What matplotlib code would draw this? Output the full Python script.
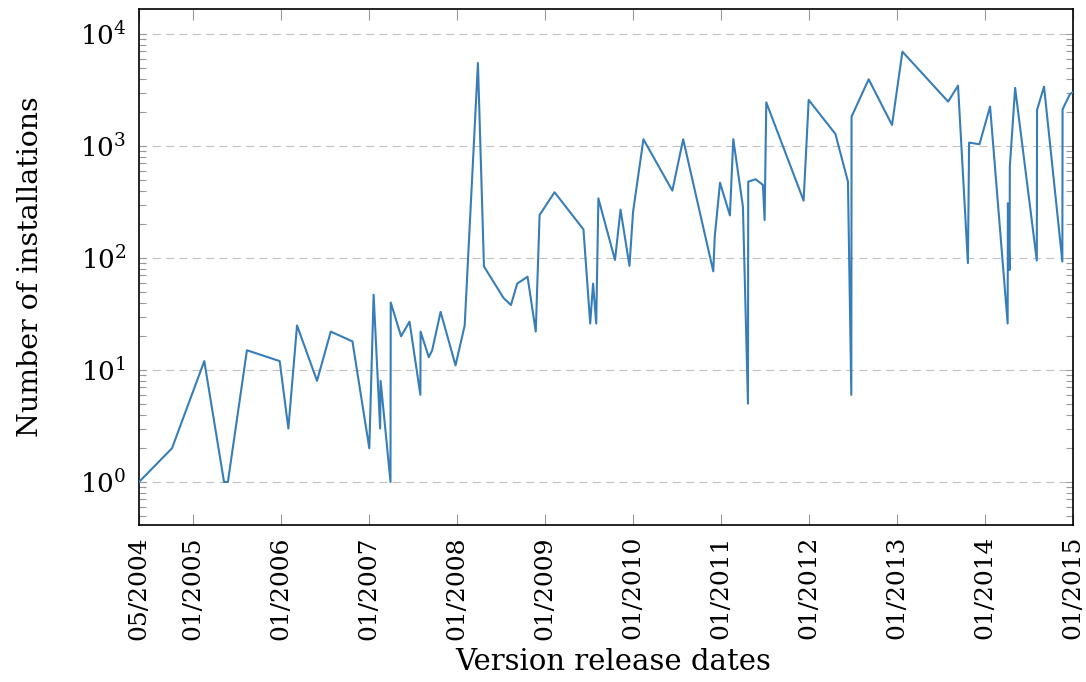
import matplotlib
matplotlib.use("Agg")
import matplotlib.pyplot as plt
import matplotlib.dates as mdates
from matplotlib.ticker import LogLocator, NullFormatter
import numpy as np
import pandas as pd

plt.rcParams['font.family'] = ['DejaVu Serif']
plt.rcParams['mathtext.fontset'] = 'dejavuserif'

# release date of each version and the number of installations of it
release_dates = [
    "2004-05-22", "2004-10-06", "2005-02-17", "2005-05-10", "2005-05-26",
    "2005-08-13", "2005-12-27", "2006-02-01", "2006-03-09", "2006-05-31",
    "2006-07-27", "2006-10-25", "2007-01-03", "2007-01-21", "2007-02-17",
    "2007-02-19", "2007-04-01", "2007-04-02", "2007-05-15", "2007-06-19",
    "2007-08-03", "2007-08-04", "2007-09-07", "2007-09-21", "2007-10-26",
    "2007-12-27", "2008-02-03", "2008-03-29", "2008-04-23", "2008-07-13",
    "2008-08-13", "2008-09-08", "2008-10-21", "2008-11-24", "2008-12-10",
    "2009-02-10", "2009-06-10", "2009-07-08", "2009-07-20", "2009-08-02",
    "2009-08-11", "2009-10-19", "2009-11-11", "2009-12-18", "2010-01-02",
    "2010-02-14", "2010-06-14", "2010-07-29", "2010-12-01", "2010-12-07",
    "2010-12-29", "2011-02-08", "2011-02-22", "2011-04-03", "2011-04-24",
    "2011-04-25", "2011-05-26", "2011-06-25", "2011-07-02", "2011-07-09",
    "2011-12-11", "2012-01-01", "2012-04-21", "2012-06-12", "2012-06-26",
    "2012-06-27", "2012-09-06", "2012-12-12", "2013-01-24", "2013-08-02",
    "2013-09-12", "2013-10-23", "2013-10-28", "2013-12-10", "2014-01-23",
    "2014-04-06", "2014-04-07", "2014-04-14", "2014-04-15", "2014-05-07",
    "2014-08-05", "2014-08-06", "2014-09-04", "2014-11-19", "2014-11-20",
    "2014-12-21", "2015-01-01",
]
installations = [
    1, 2, 12, 1, 1,
    15, 12, 3, 25, 8,
    22, 18, 2, 47, 3,
    8, 1, 40, 20, 27,
    6, 22, 13, 15, 33,
    11, 25, 5500, 84, 44,
    38, 59, 68, 22, 242,
    386, 180, 26, 59, 26,
    340, 96, 270, 85, 259,
    1148, 399, 1148, 76, 155,
    470, 240, 1150, 287, 5,
    480, 504, 449, 218, 2450,
    325, 2575, 1279, 480, 6,
    1827, 3937, 1540, 6950, 2487,
    3459, 90, 1071, 1036, 2250,
    26, 308, 78, 653, 3300,
    95, 2096, 3388, 93, 2125,
    2912, 3000,
]

dates = pd.to_datetime(release_dates)

fig = plt.figure(figsize=(10.86, 6.82), dpi=100)
ax = fig.add_axes([139 / 1086, 1 - 525 / 682, (1072.7 - 139) / 1086, (525 - 9) / 682])

ax.plot(dates, installations, color='#377eb8', lw=1.5, zorder=3)

ax.set_yscale('log')
ax.set_ylim(0.413, 16700)
ax.set_xlim(dates[0], pd.Timestamp("2015-01-01"))

# x ticks: first release plus every January
xticks = [dates[0]] + [pd.Timestamp(f"{y}-01-01") for y in range(2005, 2016)]
ax.set_xticks(xticks)
ax.xaxis.set_major_formatter(mdates.DateFormatter('%m/%Y'))
ax.tick_params(axis='x', which='major', direction='in', length=8, width=0.8,
               color='#999999', top=True, bottom=True, pad=8,
               labelrotation=90, labelsize=18)

ax.yaxis.set_major_locator(LogLocator(base=10, numticks=10))
ax.yaxis.set_minor_locator(LogLocator(base=10, subs=np.arange(2, 10), numticks=10))
ax.yaxis.set_minor_formatter(NullFormatter())
ax.tick_params(axis='y', which='both', direction='in', length=5, width=0.8,
               color='#999999', left=True, right=True)
ax.tick_params(axis='y', which='major', pad=9, labelsize=19)

ax.grid(True, axis='y', which='major', color='#c0c0c0', lw=0.8,
        linestyle=(0, (7, 5)), zorder=1)

for s in ax.spines.values():
    s.set_linewidth(1.2)
    s.set_color('black')

ax.set_xlabel('Version release dates', fontsize=21, labelpad=6)
ax.xaxis.label.set_x(0.508)
ax.set_ylabel('Number of installations', fontsize=20.5, labelpad=26)

fig.savefig('out.png', dpi=100)
